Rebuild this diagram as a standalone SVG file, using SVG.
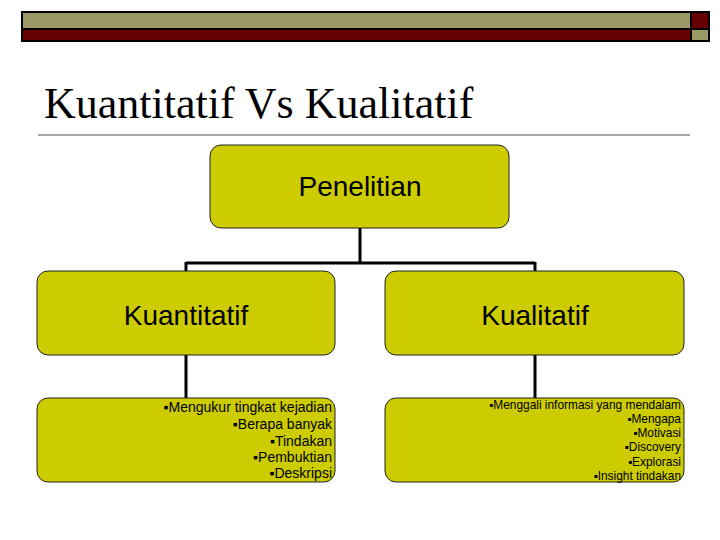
<svg xmlns="http://www.w3.org/2000/svg" width="720" height="540" viewBox="0 0 720 540">
<style>
.box{fill:#CCCC00;stroke:#222;stroke-width:1}
.conn{stroke:#000;stroke-width:3;fill:none}
.big{font-family:"Liberation Sans",Arial,sans-serif;font-size:28px;fill:#000;text-anchor:middle}
.sm{font-family:"Liberation Sans",Arial,sans-serif;font-size:14px;fill:#000;text-anchor:end}
.sm2{font-family:"Liberation Sans",Arial,sans-serif;font-size:11.9px;fill:#000;text-anchor:end}
</style>
<rect width="720" height="540" fill="#fff"/>
<g id="header">
<rect x="22" y="12" width="669" height="17" fill="#999966" stroke="#000" stroke-width="2"/>
<rect x="691" y="12" width="18" height="17" fill="#660000" stroke="#000" stroke-width="2"/>
<rect x="22" y="29" width="669" height="12" fill="#660000" stroke="#000" stroke-width="2"/>
<rect x="691" y="29" width="18" height="12" fill="#999966" stroke="#000" stroke-width="2"/>
</g>
<g id="title">
<text x="44" y="118" font-family="Liberation Serif,'Times New Roman',serif" font-size="44" fill="#000">Kuantitatif Vs Kualitatif</text>
<line x1="38" y1="135" x2="690" y2="135" stroke="#888" stroke-width="1.5"/>
</g>
<g id="connectors">
<path class="conn" d="M360 228 V263 M186 263 H535 M186 262 V271 M535 262 V271"/>
<path class="conn" d="M186 355 V398 M535 355 V398"/>
</g>
<g id="penelitian">
<rect class="box" x="210" y="145" width="299" height="83" rx="11"/>
<text class="big" x="360" y="196">Penelitian</text>
</g>
<g id="kuantitatif">
<rect class="box" x="37" y="271" width="298" height="84" rx="11"/>
<text class="big" x="186" y="325">Kuantitatif</text>
</g>
<g id="kualitatif">
<rect class="box" x="385" y="271" width="299" height="84" rx="11"/>
<text class="big" x="535" y="325">Kualitatif</text>
</g>
<g id="kuantitatif-detail">
<rect class="box" x="37" y="398" width="298" height="84" rx="11"/>
<text class="sm" x="332" y="412">▪Mengukur tingkat kejadian</text>
<text class="sm" x="332" y="429">▪Berapa banyak</text>
<text class="sm" x="332" y="446">▪Tindakan</text>
<text class="sm" x="332" y="462">▪Pembuktian</text>
<text class="sm" x="332" y="478">▪Deskripsi</text>
</g>
<g id="kualitatif-detail">
<rect class="box" x="385" y="398" width="299" height="84" rx="11"/>
<text class="sm2" x="681" y="409">▪Menggali informasi yang mendalam</text>
<text class="sm2" x="681" y="423">▪Mengapa</text>
<text class="sm2" x="681" y="437">▪Motivasi</text>
<text class="sm2" x="681" y="451">▪Discovery</text>
<text class="sm2" x="681" y="466">▪Explorasi</text>
<text class="sm2" x="681" y="480">▪Insight tindakan</text>
</g>
</svg>
